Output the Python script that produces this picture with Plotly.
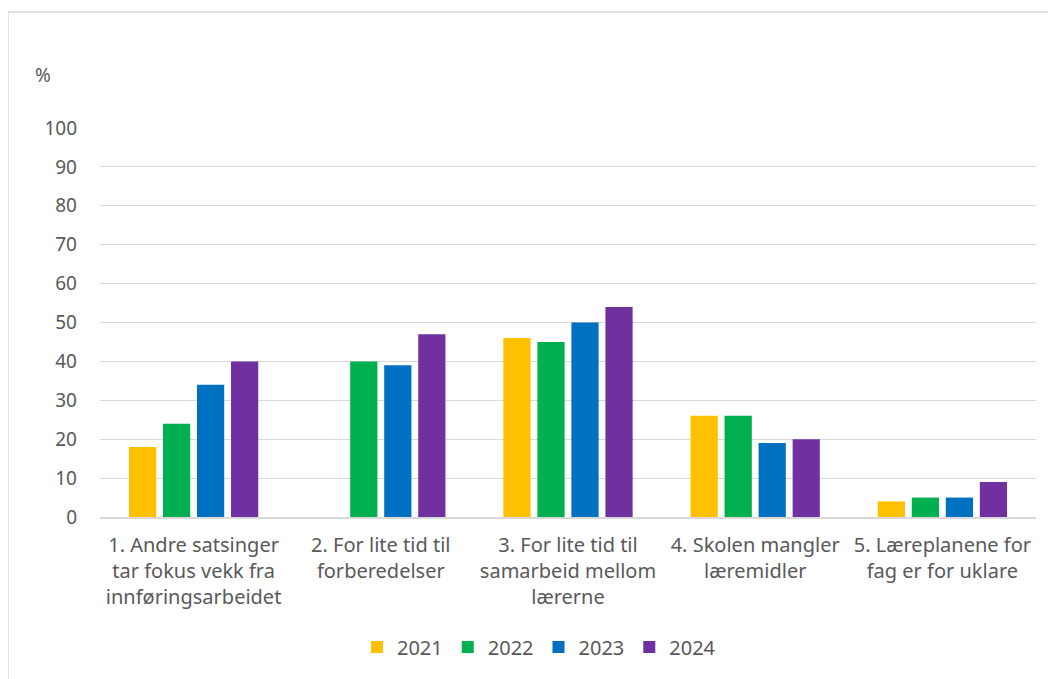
import plotly.graph_objects as go

categories = [
    "1. Andre satsinger<br>tar fokus vekk fra<br>innføringsarbeidet",
    "2. For lite tid til<br>forberedelser",
    "3. For lite tid til<br>samarbeid mellom<br>lærerne",
    "4. Skolen mangler<br>læremidler",
    "5. Læreplanene for<br>fag er for uklare",
]
years = ["2021", "2022", "2023", "2024"]
values_2021 = [18, None, 46, 26, 4]
values_2022 = [24, 40, 45, 26, 5]
values_2023 = [34, 39, 50, 19, 5]
values_2024 = [40, 47, 54, 20, 9]
colors = ["#FFC000", "#00B050", "#0070C0", "#7030A0"]
y_ticks = list(range(0, 101, 10))

series = [values_2021, values_2022, values_2023, values_2024]

fig = go.Figure()
for name, vals, col in zip(years, series, colors):
    fig.add_trace(go.Bar(x=categories, y=vals, name=name, marker=dict(color=col, line=dict(width=0))))

font_family = "'Noto Sans', sans-serif"
FS = 20
# page body has an 8px margin; compensate so the plot lands where the reference has it
L, T = 92, 120
fig.update_layout(
    width=1056, height=679,
    margin=dict(l=L, r=1056 - L - 936, t=T, b=679 - T - 389),
    paper_bgcolor="white", plot_bgcolor="white",
    barmode="group", bargap=0.273, bargroupgap=0.2,
    font=dict(family=font_family, size=FS, color="#595959"),
    showlegend=True,
    legend=dict(orientation="h", x=0.469, xanchor="center", y=-0.334, yanchor="middle",
                font=dict(size=FS, color="#595959"), itemsizing="constant", traceorder="normal",
                itemwidth=30),
    xaxis=dict(showgrid=False, showline=True, linecolor="#D9D9D9", linewidth=2, ticks="",
               ticklabelstandoff=9, tickfont=dict(size=FS, color="#595959")),
    yaxis=dict(range=[0, 100], tickvals=y_ticks, showgrid=True, gridcolor="#D9D9D9", gridwidth=1,
               zeroline=False, ticks="", ticklabelstandoff=22,
               tickfont=dict(size=19, color="#595959")),
)

fig.add_annotation(text="%", xref="paper", yref="paper", x=(43 - 100) / 936, y=(517 - 75) / 389,
                   showarrow=False, xanchor="center", yanchor="middle",
                   font=dict(size=19, color="#595959"))

fig.add_shape(type="rect", xref="paper", yref="paper",
              x0=(8 - 100) / 936, x1=(1070 - 100) / 936,
              y0=(517 - 700) / 389, y1=(517 - 12) / 389,
              line=dict(color="#D9D9D9", width=1.5), fillcolor="rgba(0,0,0,0)", layer="below")

fig.write_html("out.html")
